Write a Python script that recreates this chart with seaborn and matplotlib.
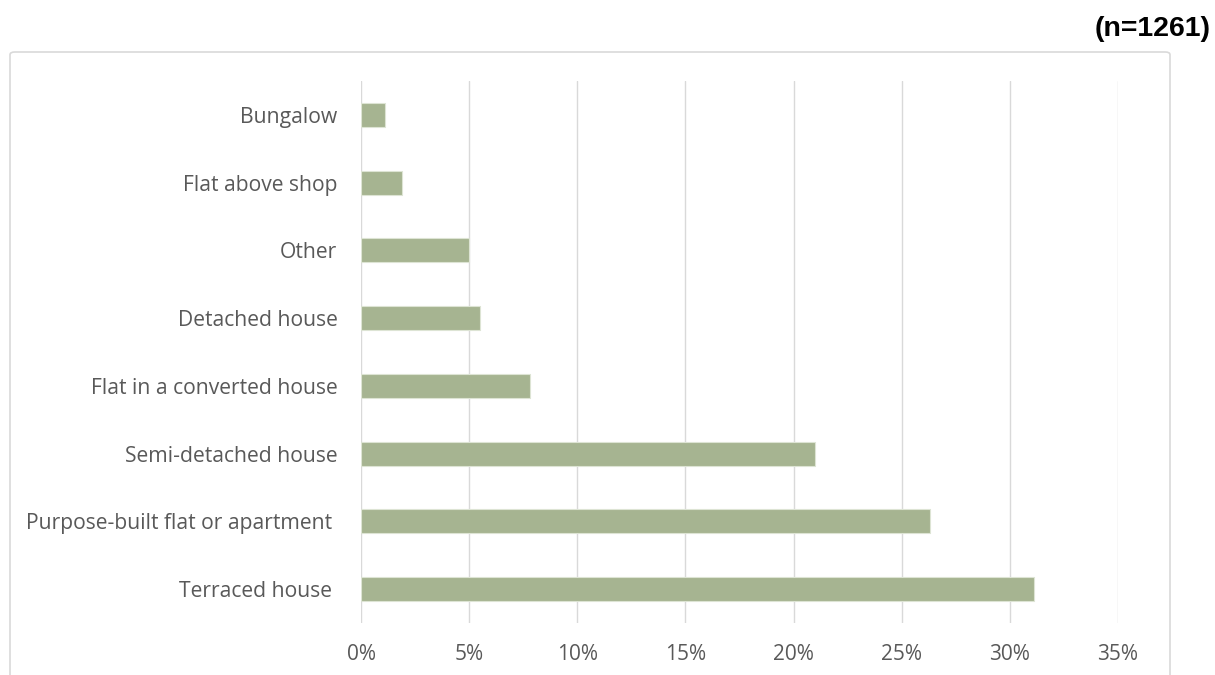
import matplotlib
matplotlib.use("Agg")
import matplotlib.pyplot as plt
from matplotlib.patches import FancyBboxPatch
from matplotlib.ticker import FuncFormatter, MultipleLocator
import seaborn as sns
import pandas as pd

# Dwelling types, listed top to bottom
categories = [
    "Bungalow",
    "Flat above shop",
    "Other",
    "Detached house",
    "Flat in a converted house",
    "Semi-detached house",
    "Purpose-built flat or apartment ",
    "Terraced house ",
]
# Share of respondents (%)
shares = [1.1, 1.9, 5.0, 5.5, 7.8, 21.0, 26.3, 31.1]
sample_label = "(n=1261)"

df = pd.DataFrame({"type": categories, "share": shares})

sns.set_theme(style="white")
plt.rcParams["font.family"] = ["Open Sans", "DejaVu Sans"]

W, H = 1215, 675
fig = plt.figure(figsize=(W / 100, H / 100), dpi=100)
fig.patch.set_facecolor("white")

# Outer chart frame
frame = FancyBboxPatch((10 / W, -0.05), 1160 / W, (H - 52) / H + 0.05,
                       boxstyle="round,pad=0,rounding_size=0.004",
                       transform=fig.transFigure, facecolor="none",
                       edgecolor="#D9D9D9", linewidth=1.2, zorder=0)
fig.patches.append(frame)

ax = fig.add_axes([361 / W, 1 - 623 / H, (1118 - 361) / W, (623 - 81) / H])
ax.set_facecolor("none")

sns.barplot(data=df, x="share", y="type", order=categories, orient="h",
            color="#A6B491", saturation=1, width=0.355,
            edgecolor="#DDE4D4", linewidth=0.8, ax=ax, zorder=3)

ax.set_xlim(0, 35)
ax.set_ylim(len(categories) - 0.5, -0.5)
ax.xaxis.set_major_locator(MultipleLocator(5))
ax.xaxis.set_major_formatter(FuncFormatter(lambda v, p: f"{v:.0f}%"))
ax.grid(axis="x", color="#D9D9D9", linewidth=1.0, zorder=0)
ax.grid(axis="y", visible=False)
ax.set_axisbelow(True)
for s in ax.spines.values():
    s.set_visible(False)
ax.set_xlabel("")
ax.set_ylabel("")
ax.tick_params(axis="x", length=0, pad=15, labelsize=15, labelcolor="#595959")
ax.tick_params(axis="y", length=0, pad=17, labelsize=15.2, labelcolor="#595959")

fig.text(1211 / W, 1 - 29 / H, sample_label, ha="right", va="center",
         fontsize=20.5, fontweight="bold", color="black",
         family=["Liberation Sans", "DejaVu Sans"])

fig.savefig("out.png", dpi=100, facecolor="white")
